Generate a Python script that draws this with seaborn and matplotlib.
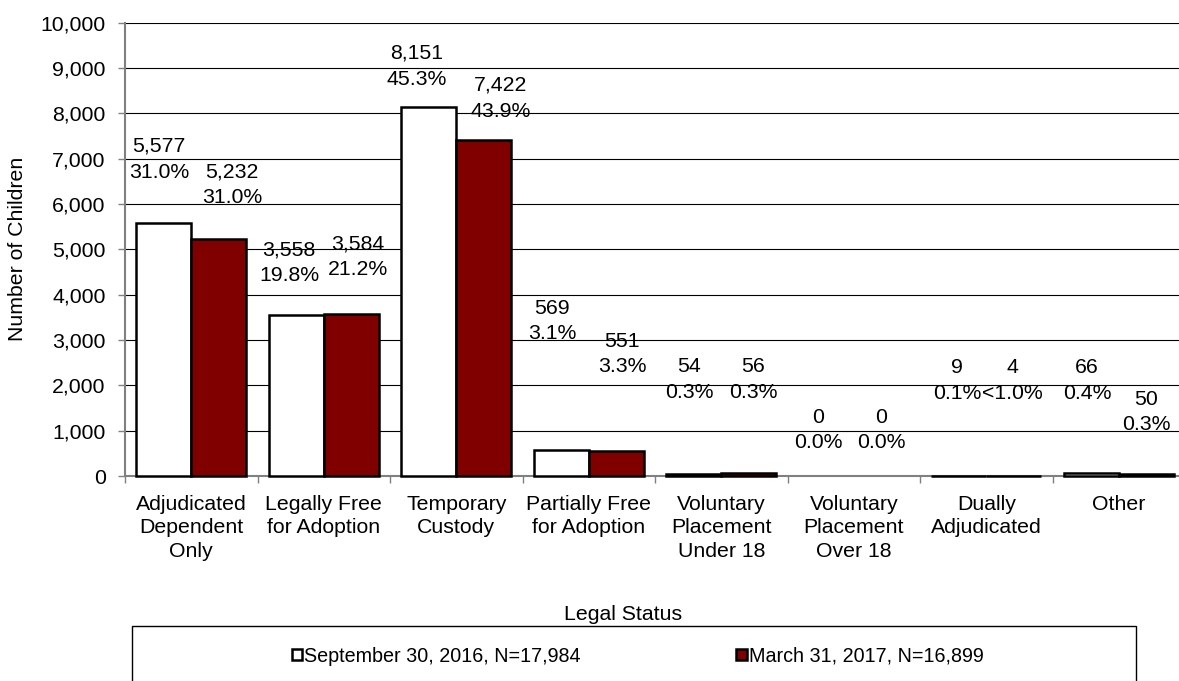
import matplotlib.pyplot as plt
import pandas as pd
import seaborn as sns
from matplotlib.patches import Rectangle
from matplotlib.ticker import FuncFormatter, FixedLocator

# Data
categories = ['Adjudicated\nDependent\nOnly', 'Legally Free\nfor Adoption', 'Temporary\nCustody',
              'Partially Free\nfor Adoption', 'Voluntary\nPlacement\nUnder 18', 'Voluntary\nPlacement\nOver 18',
              'Dually\nAdjudicated', 'Other']
series = ['September 30, 2016, N=17,984', 'March 31, 2017, N=16,899']
sep_2016 = [5577, 3558, 8151, 569, 54, 0, 9, 66]
mar_2017 = [5232, 3584, 7422, 551, 56, 0, 4, 50]
sep_2016_pct = ['31.0%', '19.8%', '45.3%', '3.1%', '0.3%', '0.0%', '0.1%', '0.4%']
mar_2017_pct = ['31.0%', '21.2%', '43.9%', '3.3%', '0.3%', '0.0%', '<1.0%', '0.3%']
colors = ['white', '#800000']

# label placement (manually moved labels in the original)
label_y = [[6990, 4697, 9040, 3418, 2130, 1014, 2100, 2100],
           [6417, 4829, 8335, 2690, 2130, 1014, 2100, 1411]]
label_dx = [[-0.035, -0.055, -0.089, -0.07, -0.036, -0.063, -0.014, -0.033],
            [0.10, 0.05, 0.125, 0.044, 0.033, -0.001, -0.013, -0.001]]

df = pd.DataFrame({
    'status': categories * 2,
    'date': [series[0]] * len(categories) + [series[1]] * len(categories),
    'children': sep_2016 + mar_2017,
})

sns.set_style('white')
plt.rcParams['font.family'] = ['Liberation Sans', 'DejaVu Sans']
plt.rcParams['text.color'] = 'black'
plt.rcParams['axes.labelcolor'] = 'black'
plt.rcParams['xtick.labelcolor'] = 'black'
plt.rcParams['ytick.labelcolor'] = 'black'
FS = 15.3

fig = plt.figure(figsize=(11.79, 6.81), dpi=100)
W, H = 1179, 681
ax = fig.add_axes([125 / W, 1 - 476 / H, 1060 / W, (476 - 22.7) / H])

sns.barplot(data=df, x='status', y='children', hue='date', order=categories,
            hue_order=series, palette=dict(zip(series, colors)), width=0.83, gap=0,
            edgecolor='black', linewidth=1.8, saturation=1, ax=ax)

# bars sit on top of the axis line, like the original
for p in ax.patches:
    p.set_zorder(3)
    p.set_clip_on(False)
    if p.get_height() == 0:
        p.set_linewidth(0)

ax.set_xlim(-0.5, 7.5)
ax.set_ylim(0, 10000)
ax.set_yticks(range(0, 10001, 1000))
ax.yaxis.set_major_formatter(FuncFormatter(lambda v, _: f'{v:,.0f}'))
ax.yaxis.grid(True, color='black', linewidth=0.8)
ax.set_axisbelow(True)

for side in ['top', 'right']:
    ax.spines[side].set_visible(False)
for side in ['left', 'bottom']:
    ax.spines[side].set_color('#808080')
    ax.spines[side].set_linewidth(1.5)

ax.tick_params(axis='y', left=True, length=5, width=1, color='#808080', pad=9, labelsize=FS)
ax.tick_params(axis='x', which='major', bottom=True, length=0, pad=13.5, labelsize=FS)
ax.xaxis.set_minor_locator(FixedLocator([i - 0.5 for i in range(len(categories) + 1)]))
ax.tick_params(axis='x', which='minor', bottom=True, length=5, width=1, color='#808080')
ax.set_xticks(range(len(categories)))
ax.set_xticklabels(categories, linespacing=1.3)

ax.set_xlabel('Legal Status', fontsize=FS, va='center')
ax.xaxis.set_label_coords((623.5 - 125) / 1060, -(615 - 476) / 453.3)
ax.set_ylabel('Number of Children', fontsize=FS, va='center')
ax.yaxis.set_label_coords((18 - 125) / 1060, 0.5)

# data labels
values = [sep_2016, mar_2017]
pcts = [sep_2016_pct, mar_2017_pct]
for s, cont in enumerate(ax.containers):
    for i, bar in enumerate(cont):
        xc = bar.get_x() + bar.get_width() / 2 + label_dx[s][i]
        ax.text(xc, label_y[s][i], f'{values[s][i]:,}\n{pcts[s][i]}', ha='center', va='center',
                fontsize=FS, linespacing=1.45)

# legend
handles, labels = ax.get_legend_handles_labels()
ax.get_legend().remove()
for h, c in zip(handles, colors):
    h.set_facecolor(c)
    h.set_edgecolor('black')
    h.set_linewidth(1.8)
fig.legend(handles, labels, loc='center', bbox_to_anchor=(637.5 / W, 1 - 656 / H), ncol=2,
           frameon=False, fontsize=14.2, handlelength=0.52, handleheight=0.52,
           handletextpad=0.1, columnspacing=7.9)
fig.add_artist(Rectangle((132 / W, -0.05), (1136 - 132) / W, (681 - 626) / H + 0.05,
                         transform=fig.transFigure, fill=False, edgecolor='black', linewidth=1))

fig.savefig('out.png', dpi=100)
